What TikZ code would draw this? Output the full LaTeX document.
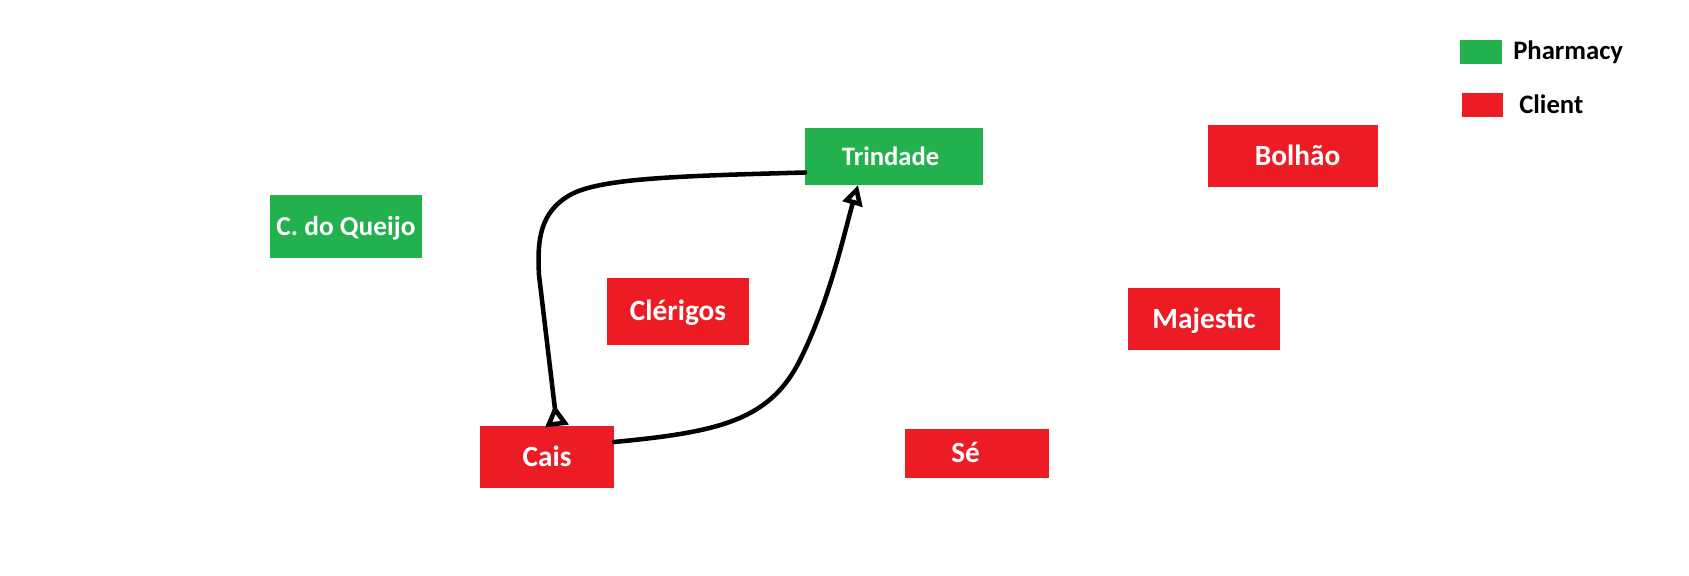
\documentclass[tikz,border=0pt]{standalone}
\usepackage{fontspec}
\setmainfont{Carlito}
\usetikzlibrary{arrows.meta}
\definecolor{pgreen}{HTML}{22B14C}
\definecolor{pred}{HTML}{ED1C24}
\begin{document}
\begin{tikzpicture}[x=0.75pt,y=-0.75pt,
  dims/.style 2 args={minimum width=#1*0.75pt, minimum height=#2*0.75pt},
  place/.style={fill=#1, draw=none, inner sep=0pt, outer sep=0pt, text=white,
    font=\bfseries\fontsize{22pt}{22pt}\selectfont, text height=14.2pt, text depth=0pt},
  legbox/.style={fill=#1, draw=none, inner sep=0pt, outer sep=0pt},
  legtext/.style={anchor=west, inner sep=0pt, text=black,
    font=\bfseries\fontsize{20pt}{20pt}\selectfont, text height=12.9pt, text depth=0pt},
  conn/.style={draw=black, line width=3.4pt, line cap=round, line join=round},
  tipend/.tip={Triangle[open,reversed,length=16pt,width=17pt]},
  tiptri/.tip={Triangle[open,length=15pt,width=15pt]}]
\useasboundingbox (0,0) rectangle (1689,575);
\fill[white] (0,0) rectangle (1689,575);

\node[place=pgreen, dims={152}{63}, font=\bfseries\fontsize{20.5pt}{20.5pt}\selectfont, text height=13.2pt] (cq) at (346,226.5) {C. do Queijo};
\node[place=pgreen, dims={178}{57}, font=\bfseries\fontsize{20pt}{20pt}\selectfont, text height=12.9pt] (tri) at (894,156.5) {Trindade\hspace*{5pt}};
\node[place=pred, dims={142}{67}] (cle) at (678,311.5) {Clérigos};
\node[place=pred, dims={134}{62}] (cais) at (547,457) {Cais};
\node[place=pred, dims={144}{49}] (se) at (977,453.5) {Sé\hspace*{17pt}};
\node[place=pred, dims={170}{62}] (bol) at (1293,156) {\hspace*{7pt}Bolhão};
\node[place=pred, dims={152}{62}] (maj) at (1204,319) {Majestic};

\node[legbox=pgreen, dims={42}{24}] (lg) at (1481,52) {};
\node[legbox=pred, dims={41}{24}] (lr) at (1482.5,105) {};
\node[legtext] (lgt) at (1513,50.5) {Pharmacy};
\node[legtext] (lrt) at (1519,104.5) {Client};

\draw[conn, -tipend]
  ([yshift=-12pt]tri.west) .. controls (680,176) and (600,178) .. (570,195)
  .. controls (540,212) and (537,240) .. (539,275) -- ([xshift=7.5pt]cais.north);
\draw[conn, -tiptri]
  ([yshift=11.25pt]cais.east) .. controls (720,432) and (770,420) .. (800,360)
  .. controls (830,300) and (845,230) .. ([xshift=-27pt]tri.south);
\end{tikzpicture}
\end{document}
